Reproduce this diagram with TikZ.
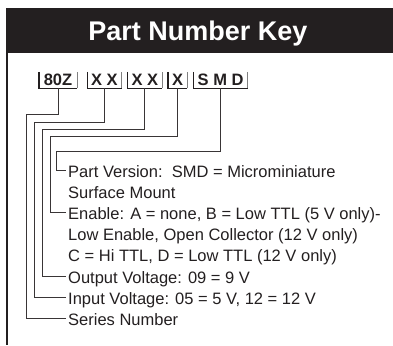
\documentclass[tikz,border=0pt]{standalone}
\usepackage{fontspec}
\setmainfont{Liberation Sans}
\usetikzlibrary{positioning}
\definecolor{encre}{HTML}{231F20}

\begin{document}
\begin{tikzpicture}[x=1pt, y=-1pt,
        digit/.style={font=\fontsize{16.5}{18}\selectfont\bfseries, text=encre,
            inner sep=0pt, minimum height=16pt},
        legend/.style={font=\fontsize{16.5}{18}\selectfont, text=encre, anchor=west,
            inner sep=2pt, text height=15pt, text depth=1pt},
        lead/.style={draw=encre!90, line width=0.9pt}]
        \useasboundingbox (0,0) rectangle (393,345);

        % --- Bandeau de titre ---
        \fill[encre] (6,8) rectangle (393,53);
        \node[font=\fontsize{27}{32}\selectfont\bfseries, text=white, anchor=base] (titre) at (198,41) {Part Number Key};
        \draw[encre, line width=2pt] (7,53) -- (7,345);

        % --- Champs du code ---
        \node[digit, minimum width=38pt] (d1) at (58,80) {80Z};
        \node[digit, minimum width=34pt, right=10pt of d1] (d2) {X X};
        \node[digit, minimum width=34pt, right=6pt of d2] (d3) {X X};
        \node[digit, minimum width=19pt, right=6pt of d3] (d4) {X};
        \node[digit, minimum width=54pt, right=6pt of d4] (d5) {S M D};
        \foreach \d in {d1,d2,d3,d4,d5} {
            \draw[encre, line width=1.4pt] (\d.north west) -- (\d.south west) -- (\d.south east);
            \draw[gray, line width=0.8pt] (\d.south east) -- (\d.north east);
        }

        % --- Legende ---
        \node[legend] (p1) at (66,170.5) {Part Version:\ \ SMD = Microminiature};
        \node[legend] (p2) at ([yshift=-21.1pt]p1.west) {Surface Mount};
        \node[legend] (p3) at ([yshift=-21.1pt]p2.west) {Enable: A = none, B = Low TTL (5 V only)-};
        \node[legend] (p4) at ([yshift=-21.1pt]p3.west) {Low Enable, Open Collector (12 V only)};
        \node[legend] (p5) at ([yshift=-21.1pt]p4.west) {C = Hi TTL, D = Low TTL (12 V only)};
        \node[legend] (p6) at ([yshift=-21.1pt]p5.west) {Output Voltage: 09 = 9 V};
        \node[legend] (p7) at ([yshift=-21.1pt]p6.west) {Input Voltage: 05 = 5 V, 12 = 12 V};
        \node[legend] (p8) at ([yshift=-21.1pt]p7.west) {Series Number};

        % --- Renvois ---
        \coordinate (j1) at (26.7,114);
        \coordinate (j2) at (34.7,122.3);
        \coordinate (j3) at (42.7,129.3);
        \coordinate (j4) at (50,136);
        \coordinate (j5) at (56.7,151);
        \draw[lead] (d1.south) |- (j1) |- (p8.west);
        \draw[lead] (d2.south) |- (j2) |- (p7.west);
        \draw[lead] (d3.south) |- (j3) |- (p6.west);
        \draw[lead] (d4.south) |- (j4) |- (p3.west);
        \draw[lead] (d5.south) |- (j5) |- (p1.west);

    \end{tikzpicture}
\end{document}
